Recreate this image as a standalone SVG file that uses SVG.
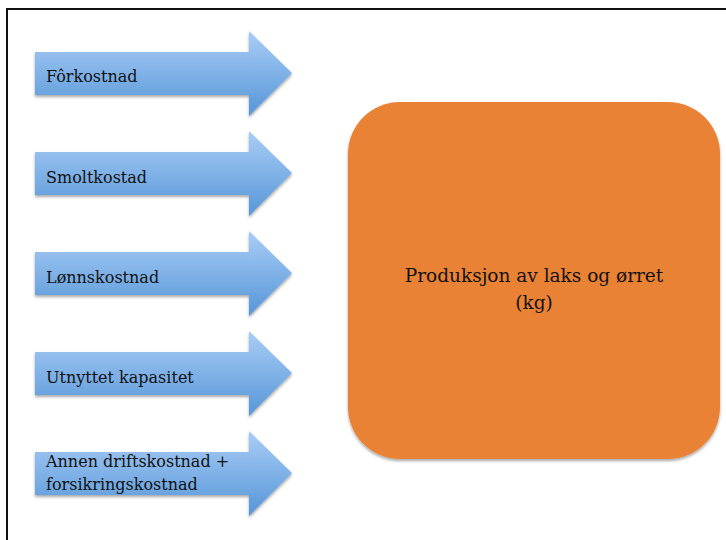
<svg xmlns="http://www.w3.org/2000/svg" width="726" height="540" viewBox="0 0 726 540">
<defs>
<linearGradient id="blue" x1="0" y1="0" x2="0" y2="1">
<stop offset="0" stop-color="#aacdf6"/>
<stop offset="1" stop-color="#5596d8"/>
</linearGradient>
<filter id="sh" x="-10%" y="-10%" width="130%" height="130%">
<feGaussianBlur in="SourceAlpha" stdDeviation="1.5"/>
<feOffset dx="0" dy="2" result="b"/>
<feComponentTransfer><feFuncA type="linear" slope="0.35"/></feComponentTransfer>
<feMerge><feMergeNode/><feMergeNode in="SourceGraphic"/></feMerge>
</filter>
<path id="arrow" d="M35,-21 H249 V-42 L292,0 L249,43 V22 H35 Z"/>
</defs>
<style>
.arr{fill:url(#blue);filter:url(#sh)}
.t{font-family:"DejaVu Serif","Liberation Serif",serif;font-size:16px;fill:#111}
.c{font-family:"DejaVu Serif","Liberation Serif",serif;font-size:18.5px;fill:#111;text-anchor:middle}
</style>
<rect x="0" y="0" width="726" height="540" fill="#fff"/>
<rect x="7" y="9" width="730" height="540" fill="none" stroke="#111" stroke-width="2"/>
<g id="n1" transform="translate(0,73)"><use href="#arrow" class="arr"/><text class="t" x="46" y="9">Fôrkostnad</text></g>
<g id="n2" transform="translate(0,173)"><use href="#arrow" class="arr"/><text class="t" x="46" y="10">Smoltkostad</text></g>
<g id="n3" transform="translate(0,273)"><use href="#arrow" class="arr"/><text class="t" x="46" y="10">Lønnskostnad</text></g>
<g id="n4" transform="translate(0,373)"><use href="#arrow" class="arr"/><text class="t" x="46" y="10">Utnyttet kapasitet</text></g>
<g id="n5" transform="translate(0,473)"><use href="#arrow" class="arr"/><text class="t" x="46" y="-6">Annen driftskostnad +</text><text class="t" x="46" y="17">forsikringskostnad</text></g>
<g id="n6"><rect x="348" y="102" width="372" height="357" rx="52" ry="52" fill="#e98234" filter="url(#sh)"/>
<text class="c" x="534" y="282">Produksjon av laks og ørret</text>
<text class="c" x="534" y="309">(kg)</text></g>
<g id="connectors"/>
</svg>
